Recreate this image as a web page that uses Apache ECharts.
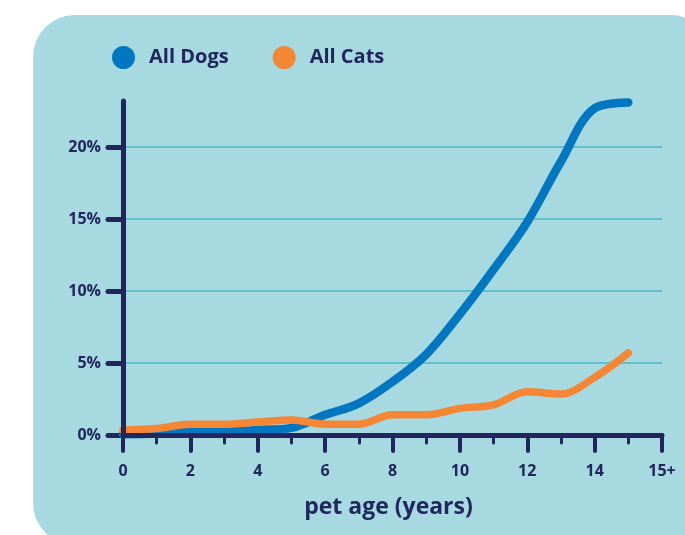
<!DOCTYPE html>
<html>
<head>
<meta charset="utf-8">
<script src="https://cdn.jsdelivr.net/npm/echarts@6/dist/echarts.min.js"></script>
<style>
  html, body { margin: 0; padding: 0; background: #fff; }
  #chart { width: 685px; height: 535px; }
</style>
</head>
<body>
<div id="chart"></div>
<script>
// pet age in years (16 is shown as "15+")
const ages = [0, 1, 2, 3, 4, 5, 6, 7, 8, 9, 10, 11, 12, 13, 14, 15];
const dogs = [0.05, 0.1, 0.25, 0.25, 0.35, 0.5, 1.4, 2.2, 3.7, 5.6, 8.4, 11.5, 14.8, 19.0, 22.7, 23.1];
const cats = [0.35, 0.45, 0.75, 0.75, 0.9, 1.05, 0.75, 0.75, 1.4, 1.4, 1.85, 2.1, 3.0, 2.85, 4.0, 5.7];

const navy = "#22265e";
const font = "'Open Sans', Lato, sans-serif";

// plot area: y axis line runs to 23.2%, ticks/labels/grid lines stop at 20%
const yTop = 23.2;
const plotTop = 101;
const plotBottom = 100;
const plotH = 535 - plotTop - plotBottom;
const tickGridTop = plotTop + plotH * (yTop - 20) / yTop;

const chart = echarts.init(document.getElementById("chart"));

chart.setOption({
  animation: false,
  textStyle: { fontFamily: font },
  graphic: [
    {
      type: "rect",
      z: -10,
      shape: { x: 33, y: 15, width: 680, height: 530, r: 42 },
      style: { fill: "#a6dae0" },
    },
  ],
  legend: {
    left: 107,
    top: 41,
    icon: "circle",
    itemWidth: 23,
    itemHeight: 23,
    itemGap: 44,
    textStyle: {
      color: navy,
      fontSize: 20,
      fontWeight: "bold",
      fontFamily: font,
      padding: [0, 0, 0, 9],
    },
    data: ["All Dogs", "All Cats"],
  },
  grid: [
    { left: 123, right: 23, top: plotTop, bottom: plotBottom },
    { left: 123, right: 23, top: tickGridTop, bottom: plotBottom },
  ],
  xAxis: [
    {
      type: "value",
      gridIndex: 0,
      min: 0,
      max: 16,
      interval: 2,
      axisLine: {
        lineStyle: { color: navy, width: 5, cap: "round" },
      },
      axisTick: {
        length: 16,
        lineStyle: { color: navy, width: 4, cap: "round" },
      },
      minorTick: {
        show: true,
        splitNumber: 2,
        length: 8,
        lineStyle: { color: navy, width: 3, cap: "round" },
      },
      axisLabel: {
        margin: 28,
        color: navy,
        fontSize: 16,
        fontWeight: "bold",
        formatter: (v) => (v === 16 ? "15+" : String(v)),
      },
      splitLine: { show: false },
      name: "pet age (years)",
      nameLocation: "middle",
      nameGap: 61,
      nameTextStyle: {
        color: navy,
        fontSize: 23,
        fontWeight: "bold",
        padding: [0, 8, 0, 0],
      },
      z: 5,
    },
    {
      type: "value",
      gridIndex: 1,
      min: 0,
      max: 16,
      show: false,
    },
  ],
  yAxis: [
    {
      // axis line only
      type: "value",
      gridIndex: 0,
      min: 0,
      max: yTop,
      axisLine: {
        show: true,
        lineStyle: { color: navy, width: 5, cap: "round" },
      },
      axisTick: { show: false },
      axisLabel: { show: false },
      splitLine: { show: false },
      z: 5,
    },
    {
      // ticks, labels and grid lines 0..20%
      type: "value",
      gridIndex: 1,
      min: 0,
      max: 20,
      interval: 5,
      axisLine: { show: false },
      axisTick: {
        show: true,
        length: 15,
        lineStyle: { color: navy, width: 5, cap: "round" },
      },
      axisLabel: {
        margin: 22,
        color: navy,
        fontSize: 16,
        fontWeight: "bold",
        formatter: (v) => v + "%",
      },
      splitLine: {
        show: true,
        showMinLine: false,
        lineStyle: { color: "#4ab7c6", width: 1.5 },
      },
    },
  ],
  series: [
    {
      name: "All Dogs",
      type: "line",
      xAxisIndex: 0,
      yAxisIndex: 0,
      smooth: 0.35,
      symbol: "none",
      color: "#0077c0",
      lineStyle: { width: 8.5, cap: "round", join: "round" },
      data: ages.map((a, i) => [a, dogs[i]]),
      z: 3,
    },
    {
      name: "All Cats",
      type: "line",
      xAxisIndex: 0,
      yAxisIndex: 0,
      smooth: 0.35,
      symbol: "none",
      color: "#f58634",
      lineStyle: { width: 7.5, cap: "round", join: "round" },
      data: ages.map((a, i) => [a, cats[i]]),
      z: 4,
    },
  ],
});
</script>
</body>
</html>
